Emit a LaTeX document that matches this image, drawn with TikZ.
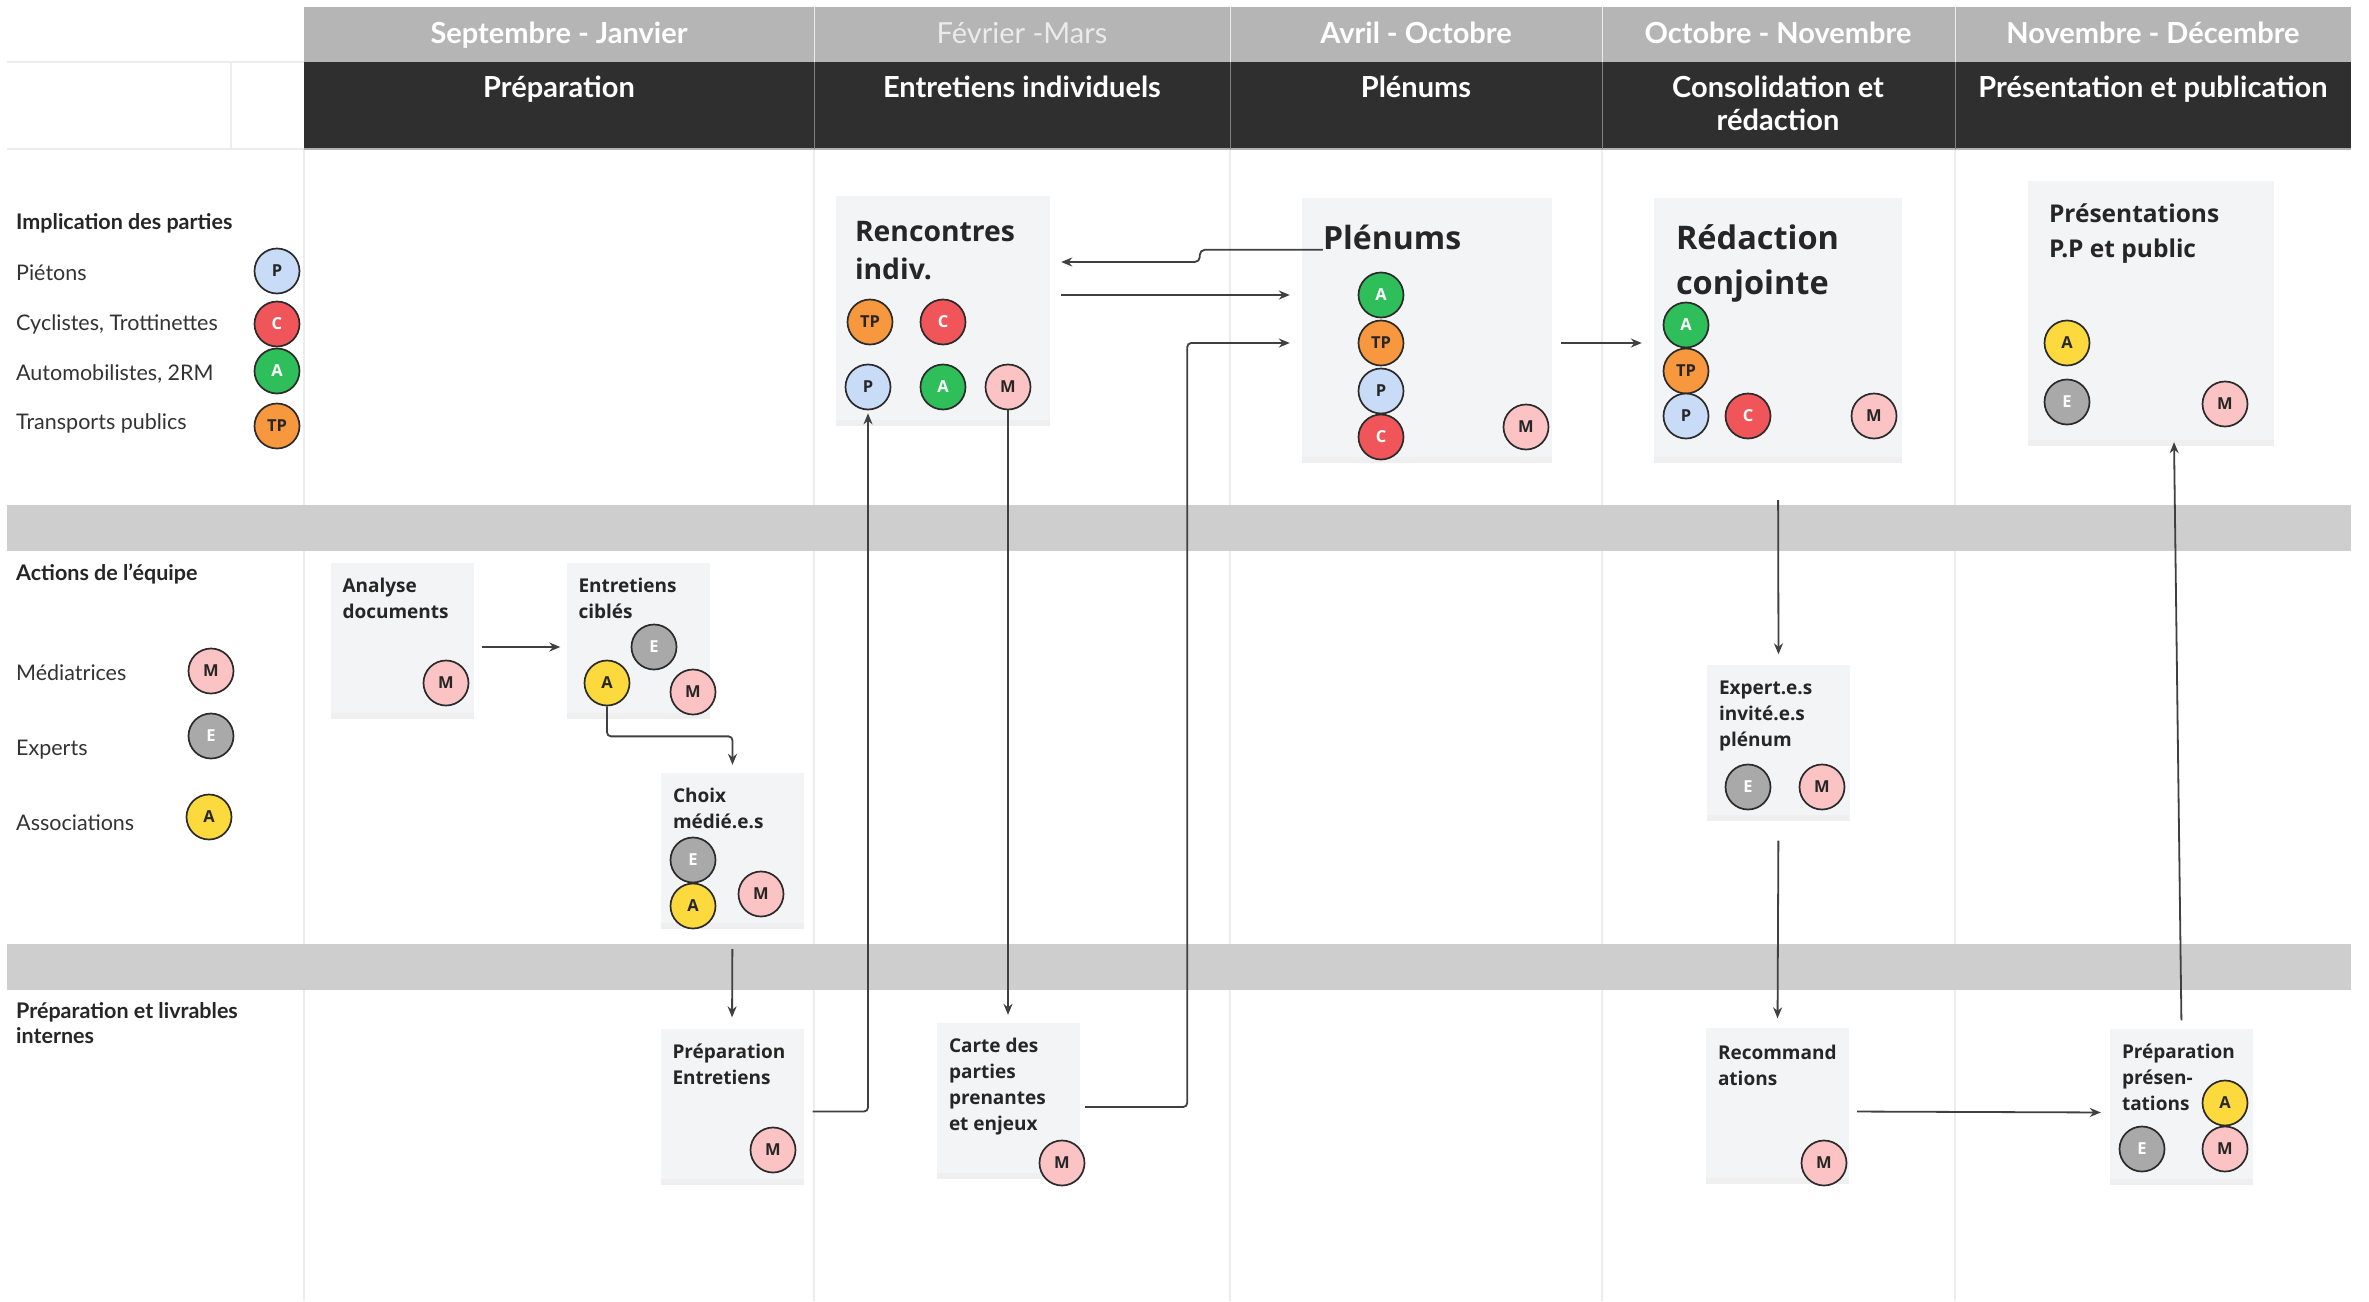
\documentclass[tikz,border=0pt]{standalone}
\usepackage{fontspec}
\setmainfont{Lato}
\newfontfamily\notefont{Open Sans}
\usetikzlibrary{arrows.meta, positioning, shadows, calc}

\definecolor{hdgray}{HTML}{B5B5B5}
\definecolor{hddark}{HTML}{2F2F2F}
\definecolor{bandgray}{HTML}{CECECE}
\definecolor{gridline}{HTML}{EDEDED}
\definecolor{notefill}{HTML}{F3F4F6}
\definecolor{flowline}{HTML}{404040}
\definecolor{ringline}{HTML}{2B2B2B}
\definecolor{colP}{HTML}{C8DBF7}
\definecolor{colC}{HTML}{F0555A}
\definecolor{colA}{HTML}{2EBF5A}
\definecolor{colTP}{HTML}{F7983E}
\definecolor{colM}{HTML}{FBC3C3}
\definecolor{colE}{HTML}{A9A9A9}
\definecolor{colAs}{HTML}{FCD93D}

\tikzset{
    >={Stealth[length=11pt,width=9pt]}, % arrow heads
    flow/.style={->, draw=flowline, line width=1.8pt}, % connectors between notes
    postit/.style={rectangle, fill=notefill, drop shadow={opacity=0.12, shadow xshift=0pt, shadow yshift=-6pt}},
    smallpostit/.style={postit, minimum width=143pt, minimum height=150pt},
    % multi-line texts sit on the baseline of their last line
    notetext/.style={anchor=base west, inner sep=0pt, align=left, font=\notefont\bfseries\fontsize{19}{26}\selectfont, text=black!85},
    ntitle/.style={anchor=base west, inner sep=0pt, align=left, text=black!85},
    pers/.style={circle, draw=ringline, line width=1.7pt, minimum size=45pt, inner sep=0pt, font=\notefont\bfseries\fontsize{16.5}{16.5}\selectfont},
    persP/.style={pers, fill=colP, text=black!85},
    persC/.style={pers, fill=colC, text=white},
    persA/.style={pers, fill=colA, text=white},
    persTP/.style={pers, fill=colTP, text=black!85},
    persM/.style={pers, fill=colM, text=black!85},
    persE/.style={pers, fill=colE, text=white},
    persAs/.style={pers, fill=colAs, text=black!85},
    monthtext/.style={anchor=base, text=white, font=\bfseries\fontsize{29}{32}\selectfont},
    phasetext/.style={anchor=base, align=center, text=white, font=\bfseries\fontsize{29}{33}\selectfont},
    rowhead/.style={anchor=base west, inner sep=0pt, align=left, text=black!85, font=\bfseries\fontsize{21.5}{25}\selectfont},
    rowitem/.style={anchor=base west, inner sep=0pt, text=black!80, font=\fontsize{21.5}{25}\selectfont},
}

\begin{document}
\begin{tikzpicture}[x=1pt, y=-1pt]
    \useasboundingbox (0,0) rectangle (2369,1301);
    \fill[white] (0,0) rectangle (2369,1301);

    % grid
    \draw[gridline, line width=1.5pt] (304,149) -- (304,1301);
    \draw[gridline, line width=1.5pt] (814,149) -- (814,1301);
    \draw[gridline, line width=1.5pt] (1230,149) -- (1230,1301);
    \draw[gridline, line width=1.5pt] (1602,149) -- (1602,1301);
    \draw[gridline, line width=1.5pt] (1955,149) -- (1955,1301);
    \draw[gridline, line width=1.5pt] (7,62) -- (304,62);
    \draw[gridline, line width=1.5pt] (7,149) -- (304,149);
    \draw[gridline, line width=1.5pt] (231,62) -- (231,149);

    % header
    \fill[hdgray] (304,7) rectangle (2351,62);
    \fill[hddark] (304,62) rectangle (2351,149);
    \draw[gray!60, line width=1.5pt] (304,149) -- (2351,149);
    \draw[white!85!gray, line width=1pt] (814,7) -- (814,62);
    \draw[white!85!gray, line width=1pt] (1230,7) -- (1230,62);
    \draw[white!85!gray, line width=1pt] (1602,7) -- (1602,62);
    \draw[white!85!gray, line width=1pt] (1955,7) -- (1955,62);
    \draw[gray, line width=1pt] (814,62) -- (814,149);
    \draw[gray, line width=1pt] (1230,62) -- (1230,149);
    \draw[gray, line width=1pt] (1602,62) -- (1602,149);
    \draw[gray, line width=1pt] (1955,62) -- (1955,149);

    \node[monthtext] (m1) at (559,43) {Septembre - Janvier};
    \node[monthtext, font=\fontsize{29}{32}\selectfont, text=white!92!black] (m2) at (1022,43) {Février -Mars};
    \node[monthtext] (m3) at (1416,43) {Avril - Octobre};
    \node[monthtext] (m4) at (1778,43) {Octobre - Novembre};
    \node[monthtext] (m5) at (2153,43) {Novembre - Décembre};

    \node[phasetext] (ph1) at (559,97) {Préparation};
    \node[phasetext] (ph2) at (1022,97) {Entretiens individuels};
    \node[phasetext] (ph3) at (1416,97) {Plénums};
    \node[phasetext] (ph4) at (1778,130) {Consolidation et\\rédaction};
    \node[phasetext] (ph5) at (2153,97) {Présentation et publication};

    % bands
    \fill[bandgray] (7,505) rectangle (2351,551);
    \fill[bandgray] (7,944) rectangle (2351,990);

    % left labels
    \node[rowhead] (rh1) at (16,229) {Implication des parties};
    \node[rowitem] (li-p) at (16,280) {Piétons};
    \node[rowitem] (li-c) at (16,330) {Cyclistes, Trottinettes};
    \node[rowitem] (li-a) at (16,380) {Automobilistes, 2RM};
    \node[rowitem] (li-tp) at (16,429) {Transports publics};
    \node[persP] (lg-p) at (277,271) {P};
    \node[persC] (lg-c) at (277,324) {C};
    \node[persA] (lg-a) at (277,371) {A};
    \node[persTP] (lg-tp) at (277,426) {TP};

    \node[rowhead] (rh2) at (16,580) {Actions de l'équipe};
    \node[rowitem] (li-m) at (16,680) {Médiatrices};
    \node[rowitem] (li-e) at (16,755) {Experts};
    \node[rowitem] (li-as) at (16,830) {Associations};
    \node[persM] (lg-m) at (211,671) {M};
    \node[persE] (lg-e) at (211,736) {E};
    \node[persAs] (lg-as) at (209,817) {A};

    \node[rowhead] (rh3) at (16,1043) {Préparation et livrables\\internes};

    % notes
    \node[postit, minimum width=214pt, minimum height=224pt] (rencontres) at (943,308) {};
    \node[postit, minimum width=250pt, minimum height=259pt] (plenums) at (1427,327.5) {};
    \node[postit, minimum width=248pt, minimum height=259pt] (redaction) at (1778,327.5) {};
    \node[postit, minimum width=246pt, minimum height=259pt] (presentations) at (2151,310.5) {};
    \node[smallpostit] (analyse) at (402,638) {};
    \node[smallpostit] (cibles) at (638,638) {};
    \node[smallpostit] (choix) at (732.5,848) {};
    \node[smallpostit] (prepent) at (732,1103.5) {};
    \node[smallpostit] (carte) at (1008.5,1098) {};
    \node[smallpostit] (recom) at (1777.5,1102.5) {};
    \node[smallpostit] (preppres) at (2181.5,1103.5) {};
    \node[smallpostit] (expert) at (1778.5,739.5) {};

    \node[ntitle, font=\notefont\bfseries\fontsize{28.3}{38}\selectfont] (ri-t) at ([shift={(19,84)}]rencontres.north west) {Rencontres\\indiv.};
    \node[ntitle, font=\notefont\bfseries\fontsize{32}{45}\selectfont] (pl-t) at ([shift={(21,52)}]plenums.north west) {Plénums};
    \node[ntitle, font=\notefont\bfseries\fontsize{32.5}{45}\selectfont] (rd-t) at ([shift={(22,97)}]redaction.north west) {Rédaction\\conjointe};
    \node[ntitle, font=\notefont\bfseries\fontsize{24.5}{35}\selectfont] (pr-t) at ([shift={(21,77)}]presentations.north west) {Présentations\\P.P et public};
    \node[notetext] (an-t) at ([shift={(12,56)}]analyse.north west) {Analyse\\documents};
    \node[notetext] (ec-t) at ([shift={(12,56)}]cibles.north west) {Entretiens\\ciblés};
    \node[notetext] (ch-t) at ([shift={(12,56)}]choix.north west) {Choix\\médié.e.s};
    \node[notetext] (pe-t) at ([shift={(12,56)}]prepent.north west) {Préparation\\Entretiens};
    \node[notetext] (ca-t) at ([shift={(12,108)}]carte.north west) {Carte des\\parties\\prenantes\\et enjeux};
    \node[notetext] (re-t) at ([shift={(12,58)}]recom.north west) {Recommand\\ations};
    \node[notetext] (pp-t) at ([shift={(12,82)}]preppres.north west) {Préparation\\présen-\\tations};
    \node[notetext] (ex-t) at ([shift={(12,82)}]expert.north west) {Expert.e.s\\invité.e.s\\plénum};

    % people
    \node[persTP] (ri-tp) at (870,322) {TP};
    \node[persC] (ri-c) at (943,322) {C};
    \node[persP] (ri-p) at (868,387) {P};
    \node[persA] (ri-a) at (943,387) {A};
    \node[persM] (ri-m) at (1008,387) {M};

    \node[persA] (pl-a) at (1381,295) {A};
    \node[persTP] (pl-tp) at (1381,343) {TP};
    \node[persP] (pl-p) at (1381,391) {P};
    \node[persC] (pl-c) at (1381,437) {C};
    \node[persM] (pl-m) at (1526,427) {M};

    \node[persA] (rd-a) at (1686,325) {A};
    \node[persTP] (rd-tp) at (1686,371) {TP};
    \node[persP] (rd-p) at (1686,416) {P};
    \node[persC] (rd-c) at (1748,416) {C};
    \node[persM] (rd-m) at (1874,416) {M};

    \node[persAs] (pr-a) at (2067,343) {A};
    \node[persE] (pr-e) at (2067,402) {E};
    \node[persM] (pr-m) at (2225,404) {M};

    \node[persM] (an-m) at (446,683) {M};
    \node[persE] (ec-e) at (654,647) {E};
    \node[persAs] (ec-a) at (607,683) {A};
    \node[persM] (ec-m) at (693,692) {M};
    \node[persE] (ch-e) at (693,860) {E};
    \node[persAs] (ch-a) at (693,906) {A};
    \node[persM] (ch-m) at (761,894) {M};
    \node[persM] (pe-m) at (773,1150) {M};
    \node[persM] (ca-m) at (1062,1163) {M};
    \node[persM] (re-m) at (1824,1163) {M};
    \node[persAs] (pp-a) at (2225,1103) {A};
    \node[persE] (pp-e) at (2142,1149) {E};
    \node[persM] (pp-m) at (2225,1149) {M};
    \node[persE] (ex-e) at (1748,787) {E};
    \node[persM] (ex-m) at (1822,787) {M};

    % edges
    \draw[flow, shorten <=8pt, shorten >=6pt] ([yshift=-9pt]analyse.east) -- ([yshift=-9pt]cibles.west);
    \draw[flow, rounded corners=4pt] (ec-a.south) -- ++(0,30) -| ([yshift=8pt]choix.north);
    \draw[flow, shorten <=26pt, shorten >=11pt] (choix.south) -- (prepent.north);
    \draw[flow, rounded corners=4pt, shorten <=9pt, shorten >=3pt] ([yshift=-8pt]prepent.east) -| (ri-p.south);
    \draw[flow, shorten >=8pt] (ri-m.south) -- (ri-m.south |- carte.north);
    \draw[flow, rounded corners=4pt, shorten <=5pt, shorten >=12pt] ([yshift=-9pt]carte.east) -- ++(107,0) |- (plenums.west |- pl-tp);
    \draw[flow, shorten <=11pt, shorten >=12pt] (rencontres.east |- pl-a) -- (plenums.west |- pl-a);
    \draw[flow, rounded corners=5pt, shorten >=11pt] (pl-t.base west) -- ++(-123,0) |- ([yshift=46pt]rencontres.east);
    \draw[flow, shorten <=9pt, shorten >=12pt] (plenums.east |- pl-tp) -- (redaction.west |- pl-tp);
    \draw[flow, shorten <=43pt, shorten >=10pt] (redaction.south) -- (expert.north);
    \draw[flow, shorten <=26pt, shorten >=9pt] (expert.south) -- (recom.north);
    \draw[flow, shorten <=8pt, shorten >=9pt] ([yshift=-9pt]recom.east) -- ([yshift=-9pt]preppres.west);
    \draw[flow, shorten <=8pt, shorten >=2pt] (preppres.north) -- ([xshift=23pt]presentations.south);
\end{tikzpicture}
\end{document}
